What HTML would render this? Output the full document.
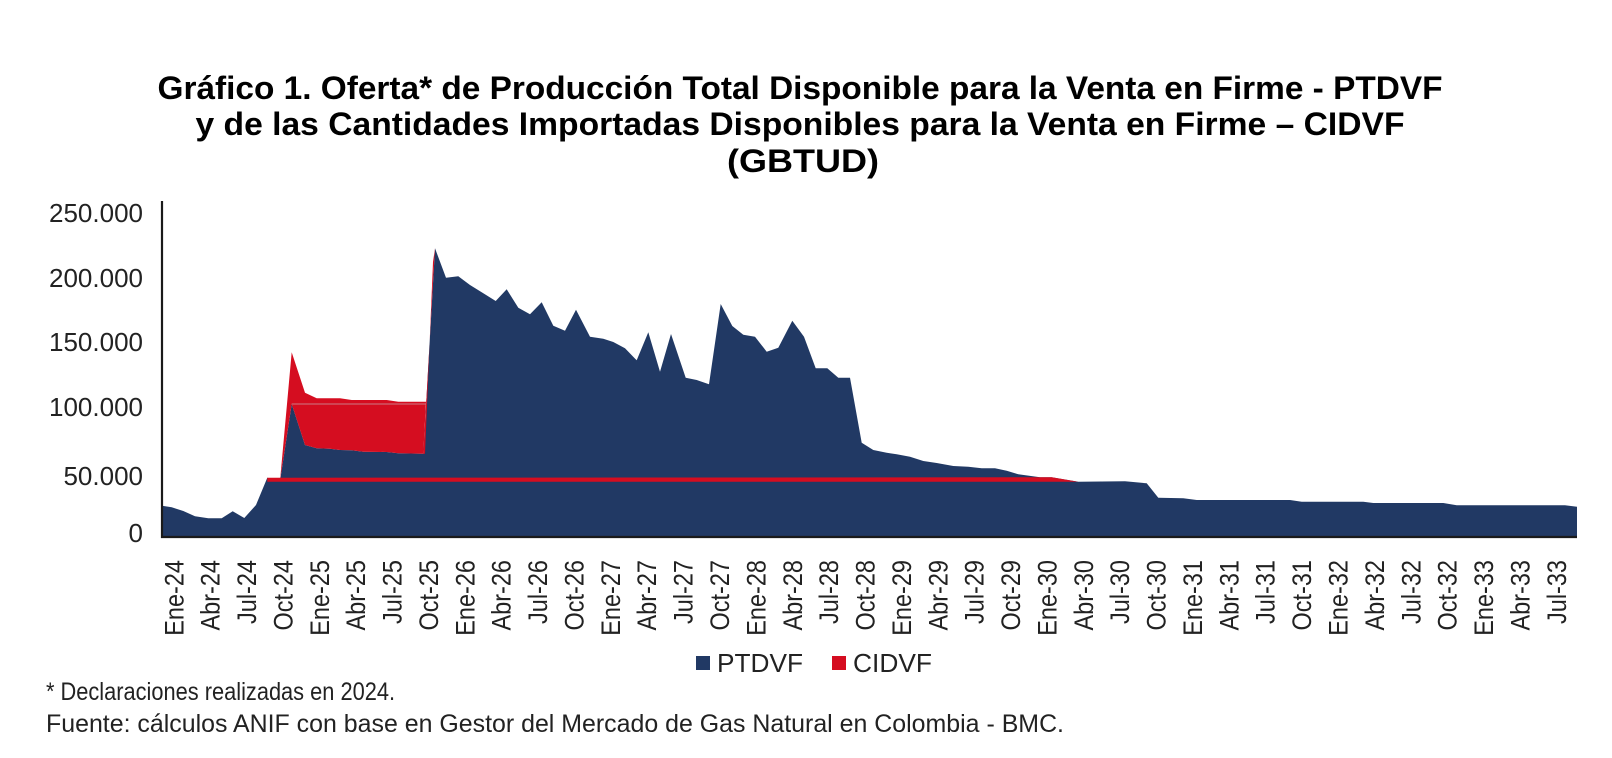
<!DOCTYPE html>
<html><head><meta charset="utf-8"><style>html,body{margin:0;padding:0;background:#fff}svg{display:block}</style></head>
<body>
<svg width="1612" height="758" viewBox="0 0 1612 758" xmlns="http://www.w3.org/2000/svg" font-family="'Liberation Sans', Arial, sans-serif">
<rect width="1612" height="758" fill="#fff"/>
<g font-weight="bold" font-size="32" fill="#000" text-anchor="middle">
<text x="800" y="99" textLength="1285" lengthAdjust="spacingAndGlyphs">Gráfico 1. Oferta* de Producción Total Disponible para la Venta en Firme - PTDVF</text>
<text x="800" y="135" textLength="1209" lengthAdjust="spacingAndGlyphs">y de las Cantidades Importadas Disponibles para la Venta en Firme – CIDVF</text>
<text x="803" y="172" textLength="152" lengthAdjust="spacingAndGlyphs">(GBTUD)</text>
</g>
<g font-size="26" fill="#222" text-anchor="end">
<text x="143" y="222">250.000</text>
<text x="143" y="287">200.000</text>
<text x="143" y="351">150.000</text>
<text x="143" y="416">100.000</text>
<text x="143" y="485">50.000</text>
<text x="143" y="542">0</text>
</g>
<polygon fill="#213964" points="162,505.7 171.7,507.3 183.3,511 195,516.3 208.3,518.3 221.7,518.3 232.7,511.3 244.3,518 256,505 267.3,477.7 280,481 291.7,404 305,445 316.7,448.3 330,448.7 340,450 351.7,450.3 363.3,451.7 386.7,452 398.3,453.3 423.3,453.7 435,248.3 446,277.7 458.3,276.3 470,285 483.3,293.3 495.7,301 506.7,289.3 518.3,307.7 530,314.3 541.7,302.3 553.3,325.7 565,330.7 576,309.7 590,336.7 603.3,338.7 613.3,342 625,348.3 636.7,360.3 648.3,332.3 660,371.7 671,334 685.7,377.7 696.7,380 709,384.3 720.7,304 732.3,326 743.3,334.7 755,336.7 766.7,351.7 778.3,347.7 792.3,320.7 804,336.7 815.7,368.3 827.3,368.3 838.3,377.7 850,377.7 861.7,442.7 873.3,450 886.7,452.7 896.7,454.3 910,456.7 923.3,461 936.7,463 953.3,466 968.3,466.7 981.7,468.3 995,468.3 1006.7,470.7 1018.3,474.3 1040,477.3 1051.7,477.3 1078.3,481.7 1125,481.3 1146.7,483.3 1158.3,497.7 1183.3,498.3 1196.7,500 1290,500 1301.7,501.7 1363.3,501.7 1373.3,503 1443.3,503 1456.7,505.3 1565,505.3 1577,506.7 1577,537 162,537"/>
<polygon fill="#d50d20" points="280,481 291.7,352.3 305,392.7 316.7,398.3 340,398.3 351.7,400 386.7,400 398.3,401.7 426,401.7 423.3,453.7 398.3,453.3 386.7,452 363.3,451.7 351.7,450.3 340,450 330,448.7 316.7,448.3 305,445 291.7,404"/>
<line x1="291.7" y1="404" x2="426" y2="404" stroke="#c9a0a8" stroke-width="0.8"/>
<polygon fill="#d50d20" points="423.3,453.7 435,248.3 433,262 425,453.7"/>
<polygon fill="#d50d20" points="267.3,477.7 1040,477.3 1051.7,477.3 1078.3,481.7 267.3,481.7"/>
<line x1="162" y1="201" x2="162" y2="538" stroke="#1a1a1a" stroke-width="2.2"/>
<line x1="161" y1="537" x2="1577" y2="537" stroke="#1a1a1a" stroke-width="2.2"/>
<rect x="696" y="656" width="14" height="14" fill="#213964"/>
<text x="717" y="672" font-size="26" fill="#222" textLength="86" lengthAdjust="spacingAndGlyphs">PTDVF</text>
<rect x="832" y="656" width="14" height="14" fill="#d50d20"/>
<text x="853" y="672" font-size="26" fill="#222" textLength="79" lengthAdjust="spacingAndGlyphs">CIDVF</text>
<g font-size="25" fill="#222">
<text x="46" y="700" textLength="349" lengthAdjust="spacingAndGlyphs">* Declaraciones realizadas en 2024.</text>
<text x="46" y="732" textLength="1018" lengthAdjust="spacingAndGlyphs">Fuente: cálculos ANIF con base en Gestor del Mercado de Gas Natural en Colombia - BMC.</text>
</g>
<g font-size="23.5" fill="#222" text-anchor="end">
<text transform="translate(183.3,560) rotate(-90) scale(1,1.15)">Ene-24</text>
<text transform="translate(219.7,560) rotate(-90) scale(1,1.15)">Abr-24</text>
<text transform="translate(256.1,560) rotate(-90) scale(1,1.15)">Jul-24</text>
<text transform="translate(292.4,560) rotate(-90) scale(1,1.15)">Oct-24</text>
<text transform="translate(328.8,560) rotate(-90) scale(1,1.15)">Ene-25</text>
<text transform="translate(365.2,560) rotate(-90) scale(1,1.15)">Abr-25</text>
<text transform="translate(401.6,560) rotate(-90) scale(1,1.15)">Jul-25</text>
<text transform="translate(438.0,560) rotate(-90) scale(1,1.15)">Oct-25</text>
<text transform="translate(474.3,560) rotate(-90) scale(1,1.15)">Ene-26</text>
<text transform="translate(510.7,560) rotate(-90) scale(1,1.15)">Abr-26</text>
<text transform="translate(547.1,560) rotate(-90) scale(1,1.15)">Jul-26</text>
<text transform="translate(583.5,560) rotate(-90) scale(1,1.15)">Oct-26</text>
<text transform="translate(619.9,560) rotate(-90) scale(1,1.15)">Ene-27</text>
<text transform="translate(656.2,560) rotate(-90) scale(1,1.15)">Abr-27</text>
<text transform="translate(692.6,560) rotate(-90) scale(1,1.15)">Jul-27</text>
<text transform="translate(729.0,560) rotate(-90) scale(1,1.15)">Oct-27</text>
<text transform="translate(765.4,560) rotate(-90) scale(1,1.15)">Ene-28</text>
<text transform="translate(801.8,560) rotate(-90) scale(1,1.15)">Abr-28</text>
<text transform="translate(838.2,560) rotate(-90) scale(1,1.15)">Jul-28</text>
<text transform="translate(874.5,560) rotate(-90) scale(1,1.15)">Oct-28</text>
<text transform="translate(910.9,560) rotate(-90) scale(1,1.15)">Ene-29</text>
<text transform="translate(947.3,560) rotate(-90) scale(1,1.15)">Abr-29</text>
<text transform="translate(983.7,560) rotate(-90) scale(1,1.15)">Jul-29</text>
<text transform="translate(1020.1,560) rotate(-90) scale(1,1.15)">Oct-29</text>
<text transform="translate(1056.4,560) rotate(-90) scale(1,1.15)">Ene-30</text>
<text transform="translate(1092.8,560) rotate(-90) scale(1,1.15)">Abr-30</text>
<text transform="translate(1129.2,560) rotate(-90) scale(1,1.15)">Jul-30</text>
<text transform="translate(1165.6,560) rotate(-90) scale(1,1.15)">Oct-30</text>
<text transform="translate(1202.0,560) rotate(-90) scale(1,1.15)">Ene-31</text>
<text transform="translate(1238.3,560) rotate(-90) scale(1,1.15)">Abr-31</text>
<text transform="translate(1274.7,560) rotate(-90) scale(1,1.15)">Jul-31</text>
<text transform="translate(1311.1,560) rotate(-90) scale(1,1.15)">Oct-31</text>
<text transform="translate(1347.5,560) rotate(-90) scale(1,1.15)">Ene-32</text>
<text transform="translate(1383.9,560) rotate(-90) scale(1,1.15)">Abr-32</text>
<text transform="translate(1420.3,560) rotate(-90) scale(1,1.15)">Jul-32</text>
<text transform="translate(1456.6,560) rotate(-90) scale(1,1.15)">Oct-32</text>
<text transform="translate(1493.0,560) rotate(-90) scale(1,1.15)">Ene-33</text>
<text transform="translate(1529.4,560) rotate(-90) scale(1,1.15)">Abr-33</text>
<text transform="translate(1565.8,560) rotate(-90) scale(1,1.15)">Jul-33</text>
</g>
</svg>
</body></html>
